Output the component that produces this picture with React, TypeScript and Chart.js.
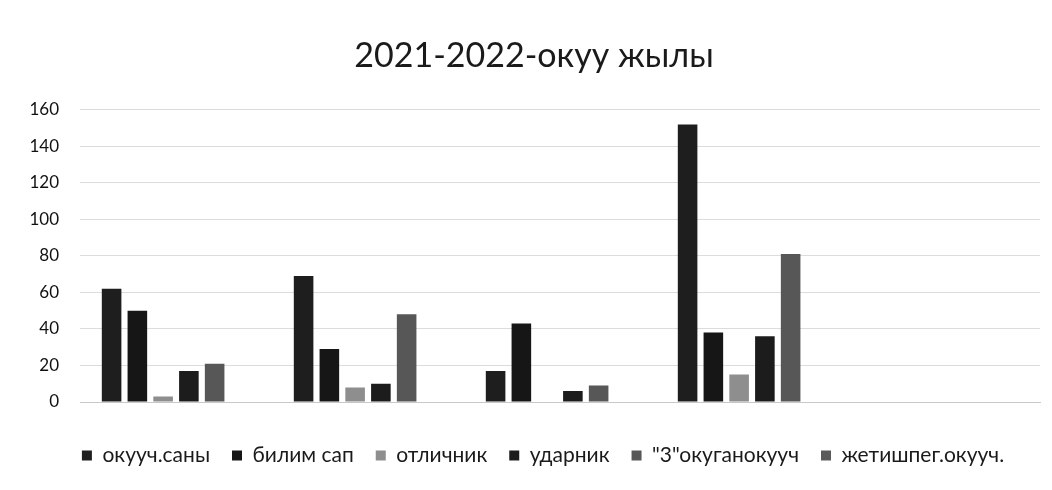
import React, { useEffect, useRef } from "react";
import { Chart, registerables } from "chart.js";

Chart.register(...registerables);

const categories = ["", "", "", "", ""];
const seriesNames = [
  "окууч.саны",
  "билим сап",
  "отличник",
  "ударник",
  "\"3\"окуганокууч",
  "жетишпег.окууч.",
];
const okuuchSany = [62, 69, 17, 152, null];
const bilimSap = [50, 29, 43, 38, null];
const otlichnik = [3, 8, 0.3, 15, null];
const udarnik = [17, 10, 6, 36, null];
const uchOkugan = [21, 48, 9, 81, null];
const jetishpeg = [0, 0, 0, 0, null];
const seriesColors = ["#1e1e1e", "#161616", "#8e8e8e", "#1c1c1c", "#575757", "#5a5a5a"];
const yTicks = [0, 20, 40, 60, 80, 100, 120, 140, 160];
const titleText = "2021-2022-окуу жылы";

const shiftBoxes = {
  id: "shiftBoxes",
  afterLayout(chart: any) {
    if (chart.legend) {
      chart.legend.left += 13;
      chart.legend.right += 13;
    }
    if (chart.titleBlock) {
      chart.titleBlock.left += 4;
      chart.titleBlock.right += 4;
    }
  },
};

export default function App() {
  const ref = useRef<HTMLCanvasElement | null>(null);
  useEffect(() => {
    if (!ref.current) return;
    const values = [okuuchSany, bilimSap, otlichnik, udarnik, uchOkugan, jetishpeg];
    const chart = new Chart(ref.current, {
      type: "bar",
      data: {
        labels: categories,
        datasets: seriesNames.map((name, i) => ({
          label: name,
          data: values[i],
          backgroundColor: seriesColors[i],
          borderWidth: 0,
          categoryPercentage: 0.805,
          barPercentage: 0.76,
        })),
      },
      plugins: [shiftBoxes],
      options: {
        animation: false,
        responsive: true,
        maintainAspectRatio: false,
        layout: { padding: { left: 20, right: 12, top: 36, bottom: 14 } },
        plugins: {
          title: {
            display: true,
            text: titleText,
            color: "#1a1a1a",
            font: { family: "Lato", size: 34, weight: "normal" },
            padding: { top: 0, bottom: 33 },
          },
          legend: {
            position: "bottom",
            labels: {
              color: "#1a1a1a",
              font: { family: "Lato", size: 21 },
              boxWidth: 10,
              boxHeight: 10,
              padding: 22,
            },
          },
          tooltip: { enabled: false },
        },
        scales: {
          x: {
            grid: { display: false },
            border: { display: true, color: "#c8c8c8" },
            ticks: { display: false },
            afterFit: (axis: any) => {
              axis.height = 21;
            },
          },
          y: {
            min: 0,
            max: 160,
            afterBuildTicks: (axis: any) => {
              axis.ticks = yTicks.map((v) => ({ value: v }));
            },
            afterFit: (axis: any) => {
              axis.width = 60;
            },
            grid: { color: "#dcdcdc", drawTicks: false },
            border: { display: false },
            ticks: {
              color: "#111",
              font: { family: "Lato", size: 17 },
              padding: 21,
            },
          },
        },
      },
    });
    return () => chart.destroy();
  }, []);
  return (
    <div style={{ position: "fixed", left: 0, top: 0, width: 1052, height: 490, background: "#fff" }}>
      <canvas ref={ref} />
    </div>
  );
}
